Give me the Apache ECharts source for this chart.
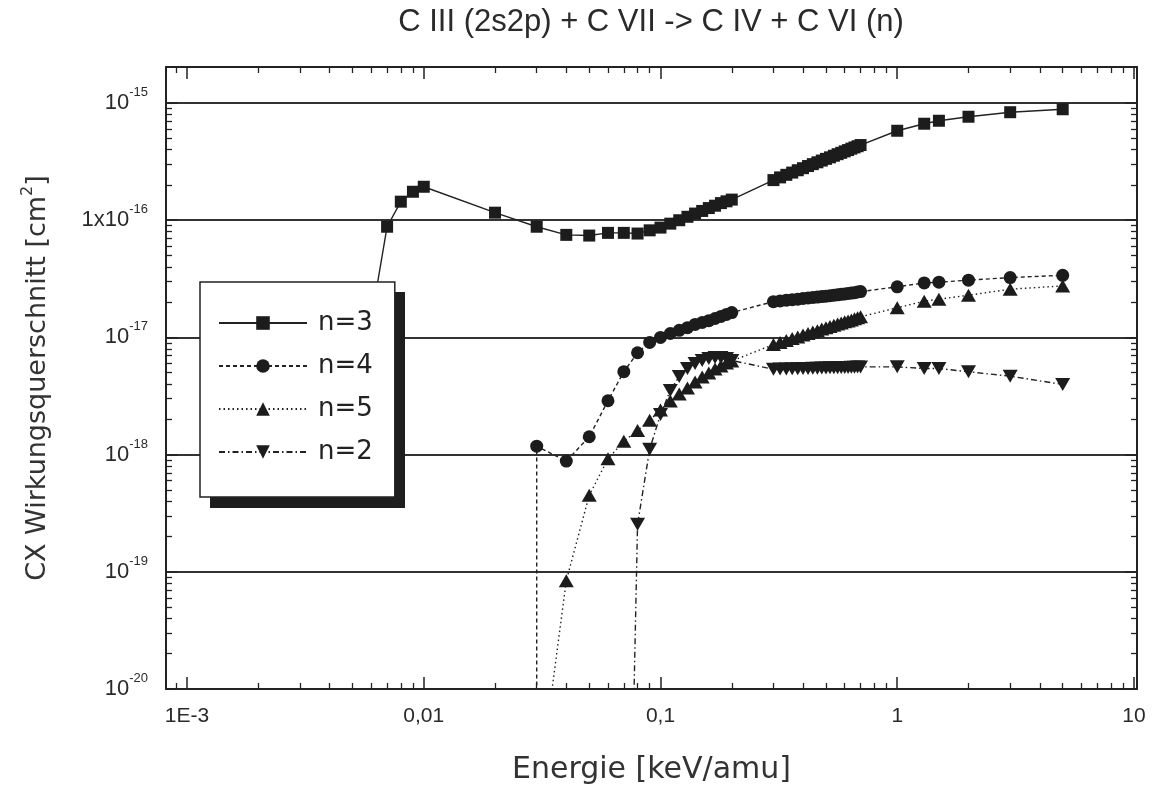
<!DOCTYPE html>
<html><head><meta charset="utf-8">
<script src="https://cdn.jsdelivr.net/npm/echarts@6/dist/echarts.min.js"></script>
<style>html,body{margin:0;padding:0;background:#fff}#c{width:1169px;height:788px}</style>
</head><body><div id="c"></div>
<script>
// ---- data ----
const seriesNames = ['n=3', 'n=4', 'n=5', 'n=2'];

const energyN3 = [0.005, 0.007, 0.008, 0.009, 0.01, 0.02, 0.03, 0.04, 0.05, 0.06, 0.07, 0.08, 0.09,
  0.10, 0.11, 0.12, 0.13, 0.14, 0.15, 0.16, 0.17, 0.18, 0.19, 0.20,
  0.30, 0.32, 0.34, 0.36, 0.38, 0.40, 0.42, 0.44, 0.46, 0.48, 0.50, 0.52, 0.54, 0.56, 0.58, 0.60, 0.62, 0.64, 0.66, 0.68, 0.70,
  1.0, 1.3, 1.5, 2, 3, 5];
const sigmaN3 = [1.6e-18, 8.8e-17, 1.44e-16, 1.75e-16, 1.93e-16, 1.16e-16, 8.8e-17, 7.5e-17, 7.4e-17, 7.8e-17, 7.8e-17, 7.7e-17, 8.2e-17,
  8.65e-17, 9.35e-17, 1.00e-16, 1.07e-16, 1.14e-16, 1.20e-16, 1.27e-16, 1.33e-16, 1.40e-16, 1.45e-16, 1.50e-16,
  2.20e-16, 2.32e-16, 2.44e-16, 2.55e-16, 2.67e-16, 2.78e-16, 2.90e-16, 3.01e-16, 3.12e-16, 3.23e-16, 3.34e-16, 3.44e-16, 3.55e-16, 3.66e-16, 3.76e-16, 3.87e-16, 3.97e-16, 4.08e-16, 4.18e-16, 4.28e-16, 4.38e-16,
  5.8e-16, 6.66e-16, 7.06e-16, 7.64e-16, 8.35e-16, 8.85e-16];

const energyN4 = [0.03, 0.03, 0.04, 0.05, 0.06, 0.07, 0.08, 0.09,
  0.10, 0.11, 0.12, 0.13, 0.14, 0.15, 0.16, 0.17, 0.18, 0.19, 0.20,
  0.30, 0.32, 0.34, 0.36, 0.38, 0.40, 0.42, 0.44, 0.46, 0.48, 0.50, 0.52, 0.54, 0.56, 0.58, 0.60, 0.62, 0.64, 0.66, 0.68, 0.70,
  1.0, 1.3, 1.5, 2, 3, 5];
const sigmaN4 = [1e-22, 1.18e-18, 8.8e-19, 1.42e-18, 2.88e-18, 5.1e-18, 7.4e-18, 9.06e-18,
  1.0e-17, 1.08e-17, 1.15e-17, 1.21e-17, 1.29e-17, 1.34e-17, 1.39e-17, 1.45e-17, 1.51e-17, 1.57e-17, 1.63e-17,
  2.02e-17, 2.05e-17, 2.08e-17, 2.10e-17, 2.12e-17, 2.15e-17, 2.17e-17, 2.19e-17, 2.21e-17, 2.23e-17, 2.25e-17, 2.27e-17, 2.29e-17, 2.31e-17, 2.33e-17, 2.35e-17, 2.37e-17, 2.39e-17, 2.41e-17, 2.44e-17, 2.46e-17,
  2.70e-17, 2.92e-17, 2.96e-17, 3.08e-17, 3.24e-17, 3.39e-17];

const energyN5 = [0.03, 0.04, 0.05, 0.06, 0.07, 0.08, 0.09,
  0.10, 0.11, 0.12, 0.13, 0.14, 0.15, 0.16, 0.17, 0.18, 0.19, 0.20,
  0.30, 0.32, 0.34, 0.36, 0.38, 0.40, 0.42, 0.44, 0.46, 0.48, 0.50, 0.52, 0.54, 0.56, 0.58, 0.60, 0.62, 0.64, 0.66, 0.68, 0.70,
  1.0, 1.3, 1.5, 2, 3, 5];
const sigmaN5 = [1e-21, 8.4e-20, 4.5e-19, 9.2e-19, 1.30e-18, 1.61e-18, 1.96e-18,
  2.40e-18, 2.87e-18, 3.29e-18, 3.70e-18, 4.16e-18, 4.59e-18, 4.97e-18, 5.37e-18, 5.70e-18, 6.05e-18, 6.29e-18,
  8.70e-18, 9.07e-18, 9.43e-18, 9.78e-18, 1.01e-17, 1.05e-17, 1.08e-17, 1.11e-17, 1.14e-17, 1.18e-17, 1.21e-17, 1.24e-17, 1.27e-17, 1.30e-17, 1.33e-17, 1.36e-17, 1.38e-17, 1.41e-17, 1.44e-17, 1.47e-17, 1.50e-17,
  1.79e-17, 2.04e-17, 2.12e-17, 2.29e-17, 2.58e-17, 2.75e-17];

const energyN2 = [0.0755, 0.08, 0.09,
  0.10, 0.11, 0.12, 0.13, 0.14, 0.15, 0.16, 0.17, 0.18, 0.19, 0.20,
  0.30, 0.32, 0.34, 0.36, 0.38, 0.40, 0.42, 0.44, 0.46, 0.48, 0.50, 0.52, 0.54, 0.56, 0.58, 0.60, 0.62, 0.64, 0.66, 0.68, 0.70,
  1.0, 1.3, 1.5, 2, 3, 5];
const sigmaN2 = [1e-21, 2.54e-19, 1.11e-18,
  2.20e-18, 3.52e-18, 4.65e-18, 5.43e-18, 6.00e-18, 6.36e-18, 6.61e-18, 6.74e-18, 6.74e-18, 6.61e-18, 6.36e-18,
  5.35e-18, 5.37e-18, 5.38e-18, 5.40e-18, 5.41e-18, 5.43e-18, 5.44e-18, 5.45e-18, 5.47e-18, 5.48e-18, 5.49e-18, 5.50e-18, 5.51e-18, 5.52e-18, 5.53e-18, 5.54e-18, 5.55e-18, 5.56e-18, 5.57e-18, 5.58e-18, 5.60e-18,
  5.61e-18, 5.43e-18, 5.43e-18, 5.09e-18, 4.67e-18, 3.97e-18];

const xTickValues = [0.001, 0.01, 0.1, 1, 10];
const xTickLabels = ['1E-3', '0,01', '0,1', '1', '10'];
const yTickValues = [1e-20, 1e-19, 1e-18, 1e-17, 1e-16, 1e-15];
const yTickBase = ['10', '10', '10', '10', '1x10', '10'];
const yTickExp = ['-20', '-19', '-18', '-17', '-16', '-15'];

const titleText = 'C III (2s2p) + C VII -> C IV + C VI (n)';
const xName = 'Energie [keV/amu]';
const yName = 'CX Wirkungsquerschnitt [cm';

// ---- chart ----
const X_MIN = 8.15e-4, X_MAX = 10.3, Y_MIN = 1e-20, Y_MAX = 2.03e-15;
const INK = '#222';

function findTick(vals, v) {
  for (let i = 0; i < vals.length; i++) {
    if (Math.abs(Math.log10(v) - Math.log10(vals[i])) < 1e-6) return i;
  }
  return -1;
}
function minorTicks(d0, d1, lo, hi) {
  const out = [];
  for (let d = d0; d <= d1; d++) for (let m = 2; m <= 9; m++) {
    const v = m * Math.pow(10, d);
    if (v > lo * 1.0001 && v < hi * 0.9999) out.push(v);
  }
  return out;
}
function pairs(xs, ys) {
  return xs.map((x, i) => ys[i] < Y_MIN || i === 0 && xs === energyN3
    ? { value: [x, ys[i]], symbol: 'none' }
    : [x, ys[i]]);
}

const minorX = minorTicks(-4, 0, X_MIN, X_MAX);
const minorY = minorTicks(-20, -16, Y_MIN, Y_MAX);

function xAxis(pos, major) {
  return {
    type: 'log', position: pos, min: X_MIN, max: X_MAX, logBase: 10,
    axisLine: { show: major, lineStyle: { color: INK, width: 2 } },
    axisTick: major
      ? { show: true, inside: true, length: 12, lineStyle: { color: INK, width: 1.5 } }
      : { show: true, inside: true, length: 6, customValues: minorX, lineStyle: { color: INK, width: 1.3 } },
    axisLabel: (major && pos === 'bottom') ? {
      show: true, margin: 17, fontFamily: 'Liberation Sans', fontSize: 21, color: '#2a2a2a',
      showMinLabel: true, showMaxLabel: true,
      formatter: v => { const i = findTick(xTickValues, v); return i < 0 ? '' : xTickLabels[i]; }
    } : { show: false },
    splitLine: { show: false },
    name: (major && pos === 'bottom') ? xName : '',
    nameLocation: 'middle', nameGap: 66,
    nameTextStyle: { fontFamily: 'DejaVu Sans', fontSize: 30, color: '#333' }
  };
}
function yAxis(pos, major) {
  return {
    type: 'log', position: pos, min: Y_MIN, max: Y_MAX, logBase: 10,
    axisLine: { show: major, lineStyle: { color: INK, width: 2 } },
    axisTick: major
      ? { show: true, inside: true, length: 12, lineStyle: { color: INK, width: 1.5 } }
      : { show: true, inside: true, length: 6, customValues: minorY, lineStyle: { color: INK, width: 1.3 } },
    axisLabel: (major && pos === 'left') ? {
      show: true, margin: 18, color: '#2a2a2a',
      showMinLabel: true, showMaxLabel: true,
      formatter: v => { const i = findTick(yTickValues, v); return i < 0 ? '' : '{b|' + yTickBase[i] + '}{s|' + yTickExp[i] + '}'; },
      rich: {
        b: { fontFamily: 'Liberation Sans', fontSize: 22, lineHeight: 34, color: '#2a2a2a' },
        s: { fontFamily: 'Liberation Sans', fontSize: 13, verticalAlign: 'top', color: '#2a2a2a' }
      }
    } : { show: false },
    splitLine: (major && pos === 'left') ? { show: true, lineStyle: { color: '#333', width: 1.8 } } : { show: false },
    name: (major && pos === 'left') ? '{t|' + yName + '}{s|2}{t|]}' : '',
    nameLocation: 'middle', nameGap: 110, nameRotate: 90,
    nameTextStyle: {
      rich: {
        t: { fontFamily: 'DejaVu Sans', fontSize: 27, color: '#333', lineHeight: 36 },
        s: { fontFamily: 'DejaVu Sans', fontSize: 16, color: '#333', verticalAlign: 'top' }
      }
    }
  };
}

const styles = [
  { symbol: 'rect', size: 12, rotate: 0, dash: 'solid' },
  { symbol: 'circle', size: 13, rotate: 0, dash: [4, 3] },
  { symbol: 'triangle', size: [15, 13], rotate: 0, dash: [1.5, 3] },
  { symbol: 'triangle', size: [15, 13], rotate: 180, dash: [6, 3, 1.5, 3] }
];
const dataSets = [pairs(energyN3, sigmaN3), pairs(energyN4, sigmaN4), pairs(energyN5, sigmaN5), pairs(energyN2, sigmaN2)];

const series = seriesNames.map((name, k) => ({
  name, type: 'line', xAxisIndex: 0, yAxisIndex: 0,
  data: dataSets[k],
  symbol: styles[k].symbol, symbolSize: styles[k].size, symbolRotate: styles[k].rotate,
  lineStyle: { color: INK, width: 1.4, type: styles[k].dash },
  itemStyle: { color: '#1c1c1c' },
  clip: true, z: 2
}));

const chart = echarts.init(document.getElementById('c'), null, { renderer: 'canvas' });
chart.setOption({
  animation: false,
  backgroundColor: '#fff',
  title: {
    text: titleText, left: 651, top: 7, textAlign: 'center', padding: 0,
    textStyle: { fontFamily: 'Liberation Sans', fontSize: 31, fontWeight: 'normal', color: '#2a2a2a' }
  },
  grid: { left: 166, right: 32, top: 67, bottom: 99, containLabel: false, outerBoundsMode: 'none' },
  graphic: [{
    type: 'rect', z: 3, silent: true,
    shape: { x: 210, y: 292, width: 195, height: 216 },
    style: { fill: '#1e1e1e' }
  }],
  legend: {
    orient: 'vertical', left: 200, top: 282, z: 4,
    itemWidth: 88, itemHeight: 17, itemGap: 17,
    padding: [28, 22, 32, 18],
    backgroundColor: '#fff', borderColor: INK, borderWidth: 1.5, borderRadius: 0,
    textStyle: { fontFamily: 'DejaVu Sans', fontSize: 26, lineHeight: 26, color: '#222', padding: [0, 0, 0, 6] },
    data: seriesNames
  },
  xAxis: [xAxis('bottom', true), xAxis('bottom', false), xAxis('top', true), xAxis('top', false)],
  yAxis: [yAxis('left', true), yAxis('left', false), yAxis('right', true), yAxis('right', false)],
  series
});
</script>
</body></html>
